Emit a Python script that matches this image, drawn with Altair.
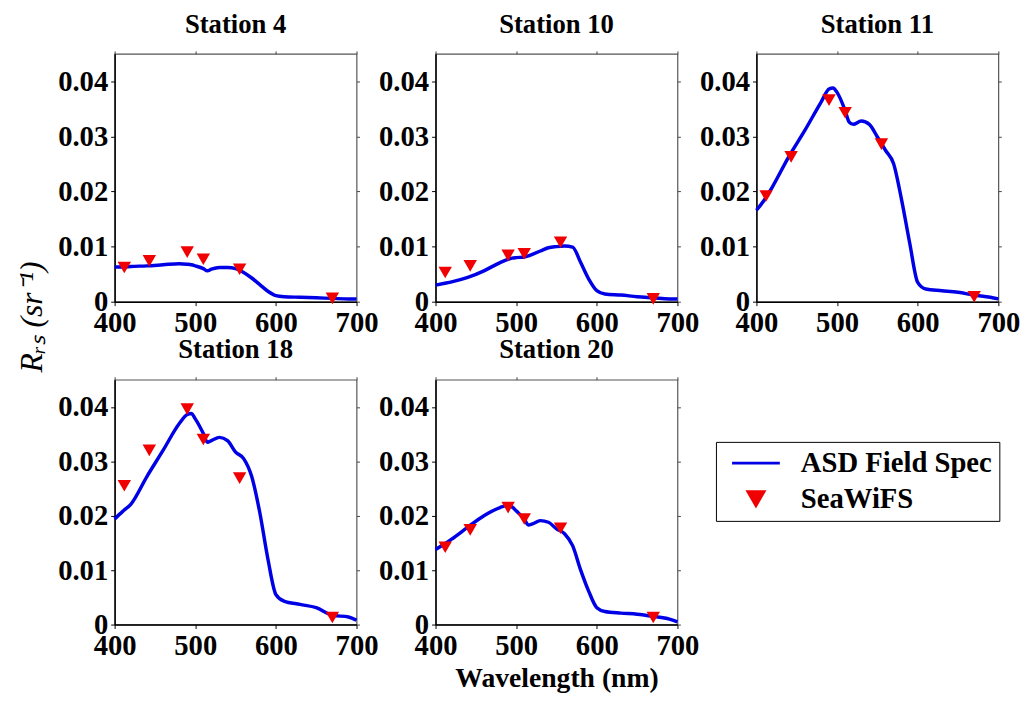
import altair as alt
import pandas as pd

FONT = "Liberation Serif"
BLUE = "#0000e6"
RED = "#f00000"

stations = ["Station 4", "Station 10", "Station 11", "Station 18", "Station 20"]
series = ["ASD Field Spec", "SeaWiFS"]

# ASD Field Spec spectra (wavelength grid, nm)
asd_wl = [400, 410, 420, 440, 460, 480, 490, 495, 500, 510, 515, 520, 530, 540,
          550, 560, 570, 580, 590, 600, 610, 630, 650, 670, 690, 700]
asd_st4 = [.0063, .0063, .0064, .0065, .0067, .0069, .0068, .0067, .0065, .0060, .0056, .0059, .0062, .0062,
           .0060, .0053, .0043, .0031, .0019, .0011, .0009, .0008, .0007, .0006, .0005, .0005]
asd_st10 = [.0030, .0033, .0036, .0044, .0056, .0071, .0077, .0079, .0080, .0081, .0083, .0086, .0092, .0098,
            .0100, .0101, .0099, .0071, .0041, .0020, .0014, .0012, .0009, .0007, .0005, .0005]
asd_st11 = [.0166, .0185, .0209, .0263, .0311, .0362, .0386, .0388, .0380, .0347, .0326, .0322, .0328, .0322,
            .0299, .0275, .0251, .0185, .0107, .0035, .0023, .0020, .0017, .0012, .0008, .0005]
asd_st18 = [.0194, .0208, .0221, .0272, .0320, .0369, .0386, .0388, .0378, .0351, .0335, .0338, .0344, .0338,
            .0317, .0305, .0272, .0206, .0121, .0055, .0043, .0037, .0031, .0017, .0014, .0008]
asd_st20 = [.0138, .0147, .0157, .0179, .0200, .0215, .0219, .0216, .0209, .0194, .0183, .0185, .0191, .0188,
            .0176, .0167, .0145, .0100, .0061, .0031, .0024, .0021, .0019, .0015, .0010, .0005]

# SeaWiFS band values
sea_wl = [412, 443, 490, 510, 555, 670]
sea_st4 = [.0062, .0074, .0090, .0077, .0059, .0006]
sea_st10 = [.0053, .0065, .0084, .0087, .0108, .0005]
sea_st11 = [.0192, .0263, .0366, .0343, .0286, .0009]
sea_st18 = [.0255, .0320, .0396, .0340, .0269, .0013]
sea_st20 = [.0142, .0174, .0215, .0194, .0177, .0013]

x_ticks = [400, 500, 600, 700]
y_ticks = [0, 0.01, 0.02, 0.03, 0.04]

asd_all = [asd_st4, asd_st10, asd_st11, asd_st18, asd_st20]
sea_all = [sea_st4, sea_st10, sea_st11, sea_st18, sea_st20]

legend = alt.Legend(title=None, orient="none", legendX=609, legendY=393)
color_enc = alt.Color("Series:N", scale=alt.Scale(domain=series, range=[BLUE, RED]), legend=legend)
shape_enc = alt.Shape("Series:N", scale=alt.Scale(domain=series, range=["M-3,0L3,0", "triangle-down"]),
                      legend=legend)

LABEL_EXPR = "datum.value == 0 ? '0' : format(datum.value, '.2f')"
x_scale = alt.Scale(domain=[400, 700], nice=False, zero=False)
y_scale = alt.Scale(domain=[0, 0.045], nice=False)

# mirror ticks on the top and right edges of each frame
x_top = alt.Axis(values=x_ticks, orient="top", labels=False, domain=False, title=None,
                 tickSize=3, tickColor="#444444")
y_right = alt.Axis(values=y_ticks, orient="right", labels=False, domain=False, title=None,
                   tickSize=3, tickColor="#444444")


def panel(i):
    line_df = pd.DataFrame({"wl": asd_wl, "rrs": asd_all[i], "Series": series[0]})
    pt_df = pd.DataFrame({"wl": sea_wl, "rrs": sea_all[i], "Series": series[1]})
    if i == 4:
        xaxis = alt.Axis(values=x_ticks, title="Wavelength (nm)", titlePadding=5)
    else:
        xaxis = alt.Axis(values=x_ticks, title=None)
    if i == 0:
        yaxis = alt.Axis(values=y_ticks, labelExpr=LABEL_EXPR,
                         title="Rᵣₛ (sr⁻¹)", titleX=-84, titleY=266, titleAngle=270,
                         titleAlign="center", titleBaseline="middle",
                         titleFontStyle="italic", titleFontWeight="normal", titleFontSize=32)
    else:
        yaxis = alt.Axis(values=y_ticks, labelExpr=LABEL_EXPR, title=None)
    line = alt.Chart(line_df).mark_line(strokeWidth=3.5, interpolate="monotone").encode(
        x=alt.X("wl:Q", scale=x_scale, axis=xaxis),
        y=alt.Y("rrs:Q", scale=y_scale, axis=yaxis),
        color=color_enc)
    pts = alt.Chart(pt_df).mark_point(filled=True, size=185, opacity=1).encode(
        x=alt.X("wl:Q", scale=x_scale, axis=x_top),
        y=alt.Y("rrs:Q", scale=y_scale, axis=y_right),
        color=color_enc, shape=shape_enc)
    h = 251 if i < 3 else 248
    return alt.layer(line, pts).resolve_axis(x="independent", y="independent").properties(
        width=245, height=h, title=alt.TitleParams(stations[i]))


chart = alt.concat(*[panel(i) for i in range(5)], columns=3,
                   spacing={"column": 80, "row": 79}, bounds="flush").properties(
    padding={"left": 7, "top": -3, "right": 5, "bottom": 5}
).configure_axis(
    labelFont=FONT, labelFontSize=29, labelFontWeight="bold", labelColor="black",
    titleFont=FONT, titleFontSize=28, titleFontWeight="bold", titleColor="black",
    grid=False, tickColor="black", tickSize=4, domainColor="black", domainWidth=1.5,
    labelPadding=3, labelOverlap=False, labelFlush=False,
).configure_view(
    stroke="#555555", strokeWidth=1.2
).configure_title(
    font=FONT, fontSize=27, fontWeight="bold", color="black", offset=12, anchor="middle"
).configure_legend(
    labelFont=FONT, labelFontSize=29, labelFontWeight="bold", labelColor="black", labelLimit=400,
    symbolSize=260, symbolStrokeWidth=3, strokeColor="black", padding=7,
    symbolOffset=19, labelOffset=31, rowPadding=6, fillColor="white"
)

chart.save("out.html", embed_options={"renderer": "svg", "actions": False})
